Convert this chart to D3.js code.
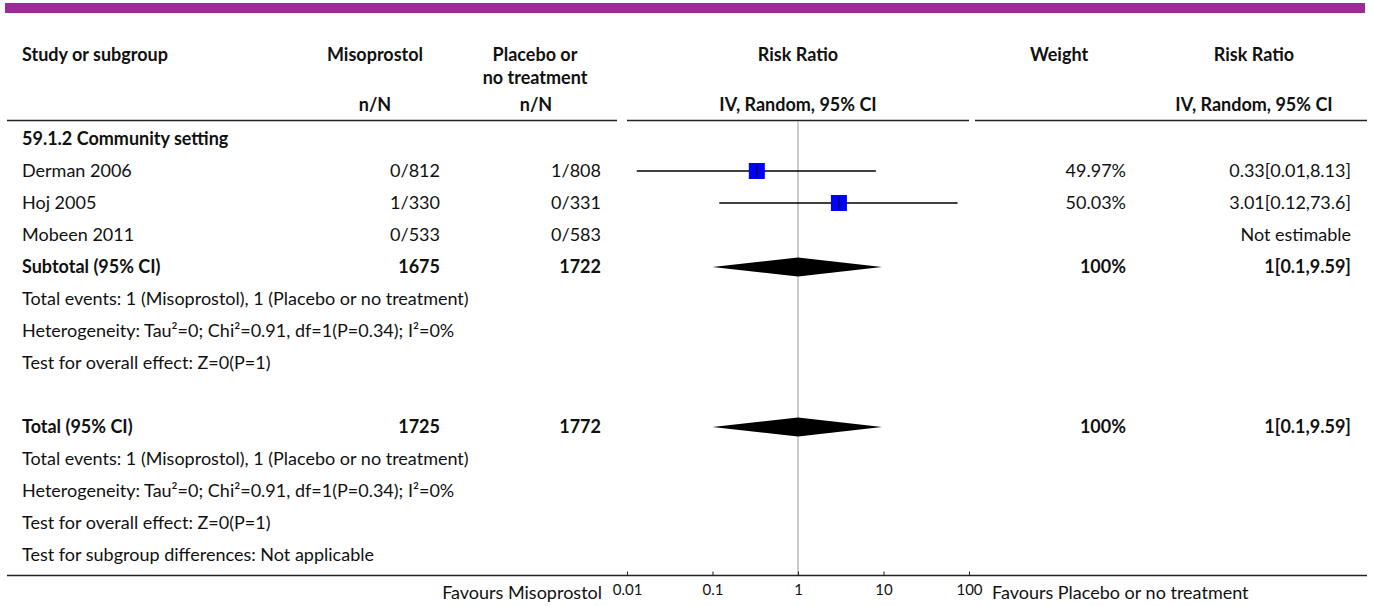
<!DOCTYPE html>
<html><head><meta charset="utf-8">
<script src="https://cdn.jsdelivr.net/npm/d3@7"></script>
<style>
html,body{margin:0;padding:0;background:#fff;}
svg text{font-family:Lato,"Noto Sans",sans-serif;fill:#111;}
</style></head>
<body><svg id="c" width="1375" height="606"></svg>
<script>
// ---- data ----
const studies = ["Derman 2006", "Hoj 2005", "Mobeen 2011"];
const misoEvents = [0, 1, 0];
const misoTotals = [812, 330, 533];
const placeboEvents = [1, 0, 0];
const placeboTotals = [808, 331, 583];
const rrPoint = [0.33, 3.01, null];
const rrLower = [0.013, 0.12, null];
const rrUpper = [8.13, 73.6, null];
const weights = ["49.97%", "50.03%", ""];
const rrLabels = ["0.33[0.01,8.13]", "3.01[0.12,73.6]", "Not estimable"];
const pooled = {point: 1, lower: 0.1, upper: 9.59, label: "1[0.1,9.59]", weight: "100%"};
const subtotalN = [1675, 1722];
const totalN = [1725, 1772];
const tickValues = [0.01, 0.1, 1, 10, 100];
const tickLabels = ["0.01", "0.1", "1", "10", "100"];
const subgroupTitle = "59.1.2 Community setting";
const eventsText = "Total events: 1 (Misoprostol), 1 (Placebo or no treatment)";
const hetText = "Heterogeneity: Tau²=0; Chi²=0.91, df=1(P=0.34); I²=0%";
const effectText = "Test for overall effect: Z=0(P=1)";
const subgroupDiffText = "Test for subgroup differences: Not applicable";

// ---- layout ----
const svg = d3.select("#c");
const x = d3.scaleLog().domain([0.01, 100]).range([627, 969]);
const y = d3.scaleLinear().domain([0, 13]).range([139, 555]);
const FS = 18;
const col = {study: 22, miso: 440, plac: 601, weight: 1126, rr: 1351};

// purple bar
svg.append("rect").attr("x", 5).attr("y", 3).attr("width", 1360).attr("height", 10).attr("fill", "#9b2a98");

function txt(xp, yp, s, opts = {}) {
  return svg.append("text").attr("x", xp).attr("y", yp).attr("dy", "0.35em")
    .attr("text-anchor", opts.anchor || "start")
    .attr("font-weight", opts.bold ? "bold" : "normal")
    .attr("font-size", opts.size || FS).text(s);
}
txt(col.study, 55, "Study or subgroup", {bold: true});
txt(375, 55, "Misoprostol", {bold: true, anchor: "middle"});
txt(535, 55, "Placebo or", {bold: true, anchor: "middle"});
txt(535, 78, "no treatment", {bold: true, anchor: "middle"});
txt(x(1), 55, "Risk Ratio", {bold: true, anchor: "middle"});
txt(1059, 55, "Weight", {bold: true, anchor: "middle"});
txt(1254, 55, "Risk Ratio", {bold: true, anchor: "middle"});
txt(375, 105, "n/N", {bold: true, anchor: "middle"});
txt(536, 105, "n/N", {bold: true, anchor: "middle"});
txt(x(1), 105, "IV, Random, 95% CI", {bold: true, anchor: "middle"});
txt(1254, 105, "IV, Random, 95% CI", {bold: true, anchor: "middle"});

// header rules
[[7, 617], [627, 969], [975, 1367]].forEach(([a, b]) =>
  svg.append("line").attr("x1", a).attr("x2", b).attr("y1", 120.5).attr("y2", 120.5)
    .attr("stroke", "#222").attr("stroke-width", 1.5));

// centre line
svg.append("line").attr("x1", x(1)).attr("x2", x(1)).attr("y1", 121).attr("y2", 575)
  .attr("stroke", "#aaa").attr("stroke-width", 1.2);

// rows
txt(col.study, y(0), subgroupTitle, {bold: true});
studies.forEach((s, i) => {
  const yy = y(i + 1);
  txt(col.study, yy, s);
  txt(col.miso, yy, misoEvents[i] + "/" + misoTotals[i], {anchor: "end"});
  txt(col.plac, yy, placeboEvents[i] + "/" + placeboTotals[i], {anchor: "end"});
  if (weights[i]) txt(col.weight, yy, weights[i], {anchor: "end"});
  txt(col.rr, yy, rrLabels[i], {anchor: "end"});
  if (rrPoint[i] != null) {
    svg.append("line").attr("x1", x(rrLower[i])).attr("x2", x(rrUpper[i]))
      .attr("y1", yy).attr("y2", yy).attr("stroke", "#000").attr("stroke-width", 1.3);
    const sz = 16;
    svg.append("rect").attr("x", x(rrPoint[i]) - sz / 2).attr("y", yy - sz / 2)
      .attr("width", sz).attr("height", sz).attr("fill", "#0000ff");
    svg.append("line").attr("x1", x(rrPoint[i])).attr("x2", x(rrPoint[i]))
      .attr("y1", yy - 6).attr("y2", yy + 6).attr("stroke", "#000").attr("stroke-width", 1);
  }
});

function diamond(yy) {
  svg.append("path").attr("d",
    `M${x(pooled.lower)},${yy} L${x(pooled.point)},${yy - 9.5} L${x(pooled.upper)},${yy} L${x(pooled.point)},${yy + 9.5} Z`)
    .attr("fill", "#000");
}
function pooledRow(idx, label, ns) {
  const yy = y(idx);
  txt(col.study, yy, label, {bold: true});
  txt(col.miso, yy, ns[0], {bold: true, anchor: "end"});
  txt(col.plac, yy, ns[1], {bold: true, anchor: "end"});
  txt(col.weight, yy, pooled.weight, {bold: true, anchor: "end"});
  txt(col.rr, yy, pooled.label, {bold: true, anchor: "end"});
  diamond(yy);
}
pooledRow(4, "Subtotal (95% CI)", subtotalN);
txt(col.study, y(5), eventsText);
txt(col.study, y(6), hetText);
txt(col.study, y(7), effectText);
pooledRow(9, "Total (95% CI)", totalN);
txt(col.study, y(10), eventsText);
txt(col.study, y(11), hetText);
txt(col.study, y(12), effectText);
txt(col.study, y(13), subgroupDiffText);

// bottom rules + axis
const axisY = 575;
[[7, 617], [979, 1367]].forEach(([a, b]) =>
  svg.append("line").attr("x1", a).attr("x2", b).attr("y1", axisY + 0.5).attr("y2", axisY + 0.5)
    .attr("stroke", "#222").attr("stroke-width", 1.5));
const axis = d3.axisBottom(x).tickValues(tickValues).tickFormat((d, i) => tickLabels[i])
  .tickSizeInner(-4).tickSizeOuter(0).tickPadding(9);
const g = svg.append("g").attr("transform", `translate(0,${axisY + 0.5})`).call(axis);
g.select(".domain").attr("stroke", "#222").attr("stroke-width", 1.5).attr("d", `M617,0H979`);
g.selectAll(".tick line").attr("stroke", "#222");
g.selectAll(".tick text").style("font-family", "Lato, sans-serif").style("font-size", "15px").attr("fill", "#111");

txt(602, 593, "Favours Misoprostol", {anchor: "end"});
txt(992, 593, "Favours Placebo or no treatment");
</script></body></html>
